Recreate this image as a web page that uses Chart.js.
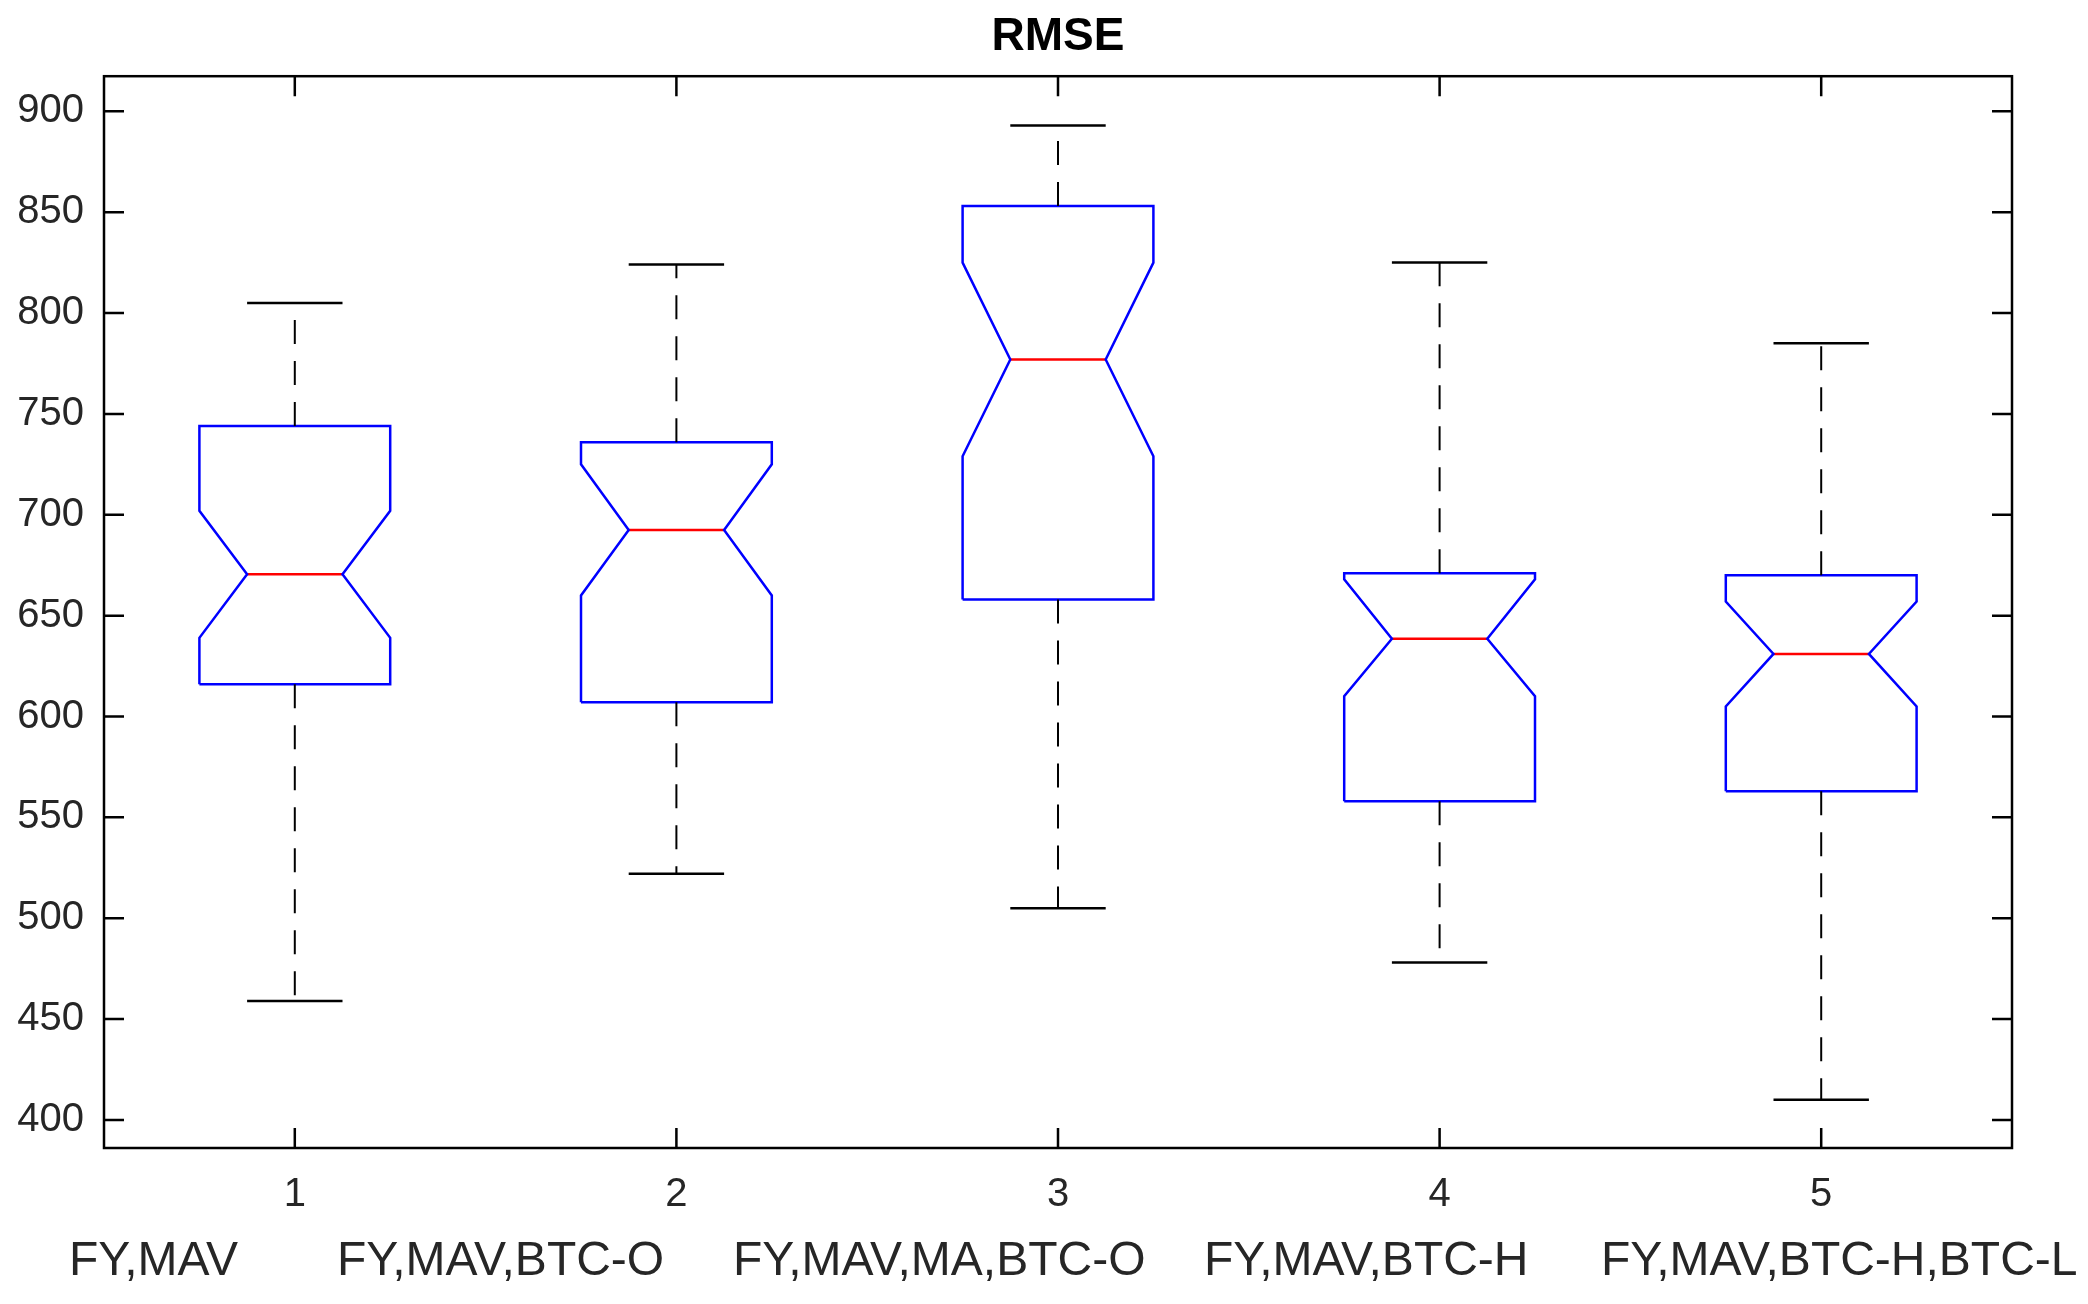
<!DOCTYPE html>
<html>
<head>
<meta charset="utf-8">
<title>RMSE</title>
<script src="https://cdn.jsdelivr.net/npm/chart.js@4.4.1/dist/chart.umd.min.js"></script>
<style>
  html, body { margin: 0; padding: 0; background: #fff; }
  canvas { display: block; }
</style>
</head>
<body>
<canvas id="myChart" width="2088" height="1304"></canvas>
<script>
const categories = ['FY,MAV', 'FY,MAV,BTC-O', 'FY,MAV,MA,BTC-O', 'FY,MAV,BTC-H', 'FY,MAV,BTC-H,BTC-L'];
const whiskerLow = [459, 522, 505, 478, 410];
const q1 = [616, 607, 658, 558, 563];
const notchLow = [639, 660, 729, 610, 605];
const medians = [670.5, 692.5, 777, 638.5, 631];
const notchHigh = [702, 725, 825, 668, 657];
const q3 = [744, 736, 853, 671, 670];
const whiskerHigh = [805, 824, 893, 825, 785];
const yTickValues = [400, 450, 500, 550, 600, 650, 700, 750, 800, 850, 900];
const xTickValues = [1, 2, 3, 4, 5];

// where the long category names start (MATLAB put them in one spaced xlabel)
const labelLeft = [69, 337, 733, 1204, 1601];

document.addEventListener('DOMContentLoaded', () => {
  if (!document.getElementById('myChart') || typeof Chart === 'undefined') {
    return;
  }

  Chart.defaults.font.family = '"Liberation Sans", Arial, sans-serif';

  const half = 0.25;
  const notch = 0.125;
  const whiskers = [];
  const caps = [];
  const boxes = [];
  const medianLines = [];

  xTickValues.forEach((x, i) => {
    const dashed = { borderColor: '#000', borderWidth: 2, borderDash: [24, 17], pointRadius: 0, fill: false };
    whiskers.push({ ...dashed, data: [{ x: x, y: q3[i] }, { x: x, y: whiskerHigh[i] }] });
    whiskers.push({ ...dashed, data: [{ x: x, y: q1[i] }, { x: x, y: whiskerLow[i] }] });

    const cap = { borderColor: '#000', borderWidth: 2.5, pointRadius: 0, fill: false };
    caps.push({ ...cap, data: [{ x: x - notch, y: whiskerHigh[i] }, { x: x + notch, y: whiskerHigh[i] }] });
    caps.push({ ...cap, data: [{ x: x - notch, y: whiskerLow[i] }, { x: x + notch, y: whiskerLow[i] }] });

    boxes.push({
      borderColor: '#0000ff',
      borderWidth: 2.5,
      pointRadius: 0,
      fill: false,
      data: [
        { x: x - half, y: q1[i] },
        { x: x - half, y: notchLow[i] },
        { x: x - notch, y: medians[i] },
        { x: x - half, y: notchHigh[i] },
        { x: x - half, y: q3[i] },
        { x: x + half, y: q3[i] },
        { x: x + half, y: notchHigh[i] },
        { x: x + notch, y: medians[i] },
        { x: x + half, y: notchLow[i] },
        { x: x + half, y: q1[i] },
        { x: x - half, y: q1[i] },
      ],
    });

    medianLines.push({
      borderColor: '#ff0000',
      borderWidth: 2.5,
      pointRadius: 0,
      fill: false,
      data: [{ x: x - notch, y: medians[i] }, { x: x + notch, y: medians[i] }],
    });
  });

  // MATLAB look: full box, ticks pointing inwards on all four sides, names under the numbers
  const matlabAxes = {
    id: 'matlabAxes',
    afterDatasetsDraw(chart) {
      const { ctx, chartArea: a, scales } = chart;
      ctx.save();
      ctx.strokeStyle = '#000';
      ctx.lineWidth = 2.5;
      ctx.setLineDash([]);
      ctx.strokeRect(a.left, a.top, a.right - a.left, a.bottom - a.top);
      ctx.beginPath();
      scales.y.ticks.forEach((t) => {
        const py = scales.y.getPixelForValue(t.value);
        ctx.moveTo(a.left, py);
        ctx.lineTo(a.left + 20, py);
        ctx.moveTo(a.right, py);
        ctx.lineTo(a.right - 20, py);
      });
      scales.x.ticks.forEach((t) => {
        const px = scales.x.getPixelForValue(t.value);
        ctx.moveTo(px, a.bottom);
        ctx.lineTo(px, a.bottom - 20);
        ctx.moveTo(px, a.top);
        ctx.lineTo(px, a.top + 20);
      });
      ctx.stroke();

      ctx.fillStyle = '#262626';
      ctx.font = '48px "Liberation Sans", Arial, sans-serif';
      ctx.textAlign = 'left';
      ctx.textBaseline = 'alphabetic';
      categories.forEach((name, i) => {
        ctx.fillText(name, labelLeft[i], 1275);
      });
      ctx.restore();
    },
  };

  new Chart('myChart', {
    type: 'line',
    data: {
      datasets: [...whiskers, ...caps, ...boxes, ...medianLines],
    },
    plugins: [matlabAxes],
    options: {
      responsive: false,
      animation: false,
      layout: { padding: { left: 0, right: 76, top: 0, bottom: 0 } },
      elements: { line: { tension: 0 } },
      plugins: {
        legend: { display: false },
        tooltip: { enabled: false },
        title: {
          display: true,
          fullSize: false,
          text: 'RMSE',
          color: '#000',
          font: { size: 46, weight: 'bold' },
          padding: { top: 10, bottom: 11 },
        },
      },
      scales: {
        x: {
          type: 'linear',
          min: 0.5,
          max: 5.5,
          grid: { display: false, drawTicks: false },
          border: { display: false },
          afterBuildTicks: (scale) => {
            scale.ticks = xTickValues.map((v) => ({ value: v }));
          },
          afterFit: (scale) => {
            scale.height = 156;
          },
          ticks: {
            color: '#262626',
            font: { size: 40 },
            padding: 23,
            maxRotation: 0,
            callback: (v) => String(v),
          },
        },
        y: {
          type: 'linear',
          min: 386.1,
          max: 917.4,
          grid: { display: false, drawTicks: false },
          border: { display: false },
          afterBuildTicks: (scale) => {
            scale.ticks = yTickValues.map((v) => ({ value: v }));
          },
          afterFit: (scale) => {
            scale.width = 104;
          },
          ticks: {
            color: '#262626',
            font: { size: 40 },
            padding: 20,
            callback: (v) => String(v),
          },
        },
      },
    },
  });
});
</script>
</body>
</html>
